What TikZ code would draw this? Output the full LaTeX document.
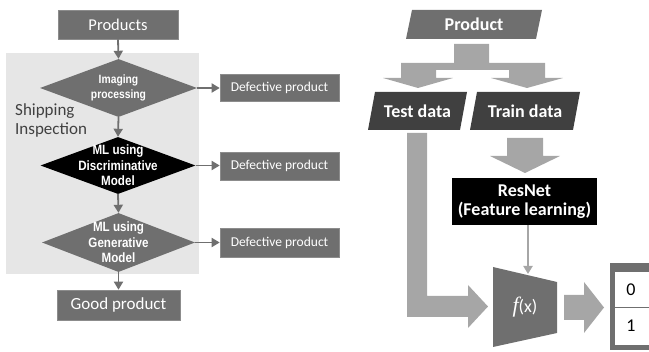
\documentclass[tikz,border=0pt]{standalone}
\usepackage{fontspec}
\setmainfont{Carlito}
\newfontfamily\dfont[FakeStretch=0.86]{Liberation Sans}
\newfontfamily\serifit{Liberation Serif}
\usetikzlibrary{shapes.geometric,arrows.meta}
\definecolor{midgray}{HTML}{6F6F6F}
\definecolor{lightgray2}{HTML}{A6A6A6}
\definecolor{darkgray2}{HTML}{404040}
\definecolor{panelgray}{HTML}{E6E6E6}
\definecolor{edgegray}{HTML}{8C8C8C}
\begin{document}
\begin{tikzpicture}[x=1pt,y=-1pt,
  flowbox/.style={rectangle, fill=midgray, draw=edgegray, line width=0.6pt,
    text=white, inner sep=0pt},
  decision/.style={diamond, inner sep=0pt, fill=midgray},
  dtext/.style={text=white, align=center, inner sep=0pt,
    font=\dfont\bfseries\fontsize{13.5}{15.5}\selectfont},
  flowarrow/.style={draw=midgray, line width=1.8pt,
    -{Triangle[length=8pt,width=9pt]}},
  blockarrow/.style={fill=lightgray2},
  datatext/.style={text=white, inner sep=0pt, align=center,
    font=\bfseries\fontsize{18}{19}\selectfont}]
\useasboundingbox (0,0) rectangle (649,352);
\begin{scope}
\clip (0,0) rectangle (649,352);

% ---------- left: shipping inspection flow ----------
\fill[panelgray] (6,53) rectangle (199,274);

\node[flowbox, minimum width=120pt, minimum height=29pt,
  font=\fontsize{16.5}{18}\selectfont] (prod) at (118,24.5) {Products};

\node[decision, minimum width=157pt, minimum height=58pt] (d1) at (118.5,88) {};
\node[dtext, font=\dfont\bfseries\fontsize{12}{15}\selectfont] (t1) at (d1.center) {Imaging\\processing};

\node[decision, fill=black, minimum width=155pt, minimum height=57pt] (d2) at (118,165.5) {};
\node[dtext] (t2) at (d2.center) {ML using\\Discriminative\\Model};

\node[decision, minimum width=153pt, minimum height=59pt] (d3) at (118.5,242.5) {};
\node[dtext] (t3) at (d3.center) {ML using\\Generative\\Model};

\node[flowbox, minimum width=123pt, minimum height=30pt,
  font=\fontsize{17}{19}\selectfont] (good) at (118.5,305) {Good product};

\foreach \n/\y/\h in {1/87.5/27, 2/166/28, 3/242.5/29}{
  \node[flowbox, minimum width=119pt, minimum height=\h pt,
    font=\fontsize{13.5}{15}\selectfont] (def\n) at (279.5,\y) {Defective product};
}

\node[anchor=west, align=left, inner sep=0pt, text=darkgray2,
  font=\fontsize{17}{19}\selectfont] (ship) at (15,120.5) {Shipping\\Inspection};

\draw[flowarrow] (prod.south) -- (d1.north);
\draw[flowarrow] (d1.south) -- (d2.north);
\draw[flowarrow] (d2.south) -- (d3.north);
\draw[flowarrow] (d3.south) -- (good.north);
\draw[flowarrow] (d1.east) -- (d1.east -| def1.west);
\draw[flowarrow] (d2.east) -- (d2.east -| def2.west);
\draw[flowarrow] (d3.east) -- (d3.east -| def3.west);

% ---------- right: learning pipeline ----------
% product input
\fill[midgray] (412,10) -- (542,10) -- (536,39) -- (406,39) -- cycle;
\node[datatext] (product) at (474,24.5) {Product};

% split arrow towards the two data sets
\fill[blockarrow] (454,44) -- (489,44) -- (489,63) -- (545,63) -- (545,78)
  -- (563,78) -- (527,88) -- (491,78) -- (509,78) -- (509,70) -- (436,70)
  -- (436,78) -- (453,78) -- (418,88) -- (383,78) -- (401,78) -- (401,63)
  -- (454,63) -- cycle;

% data sets
\fill[darkgray2] (375,92) -- (467,92) -- (460,130) -- (368,130) -- cycle;
\node[datatext] (test) at (417.5,111) {Test data};
\fill[darkgray2] (477,92) -- (580,92) -- (573,130) -- (470,130) -- cycle;
\node[datatext] (train) at (525,111) {Train data};

% train data into the network
\fill[blockarrow] (507,138) -- (543,138) -- (543,156) -- (560,156)
  -- (525,173) -- (490,156) -- (507,156) -- cycle;

\node[rectangle, fill=black, minimum width=145pt, minimum height=47pt,
  datatext] (resnet) at (524.5,201.5) {ResNet\\(Feature learning)};

% test data straight to the classifier
\fill[blockarrow] (407,133) -- (427,133) -- (427,296) -- (468,296) -- (468,285)
  -- (488,306.5) -- (468,328) -- (468,317) -- (407,317) -- cycle;

% classifier
\fill[midgray] (493,267) -- (557,282) -- (557,333) -- (493,347) -- cycle;
\node[text=white, inner sep=0pt, font=\fontsize{18}{20}\selectfont] (fx)
  at (525,307) {{\serifit\itshape\fontsize{22}{22}\selectfont f}(x)};
\coordinate (ftop) at (528,274);
\draw[draw=lightgray2, line width=2pt, -{Triangle[length=8pt,width=9pt]}]
  (resnet.south -| ftop) -- (ftop);

% output
\fill[blockarrow] (564,295) -- (584,295) -- (584,282) -- (604,307.5)
  -- (584,333) -- (584,320) -- (564,320) -- cycle;
\fill[midgray] (610,263) rectangle (670,350);
\fill[white] (615,272) rectangle (670,307);
\fill[white] (615,308) rectangle (670,345);
\node[inner sep=0pt, font=\fontsize{18}{20}\selectfont] (out0) at (631,290) {0};
\node[inner sep=0pt, font=\fontsize{18}{20}\selectfont] (out1) at (631,326) {1};
\end{scope}
\end{tikzpicture}
\end{document}
